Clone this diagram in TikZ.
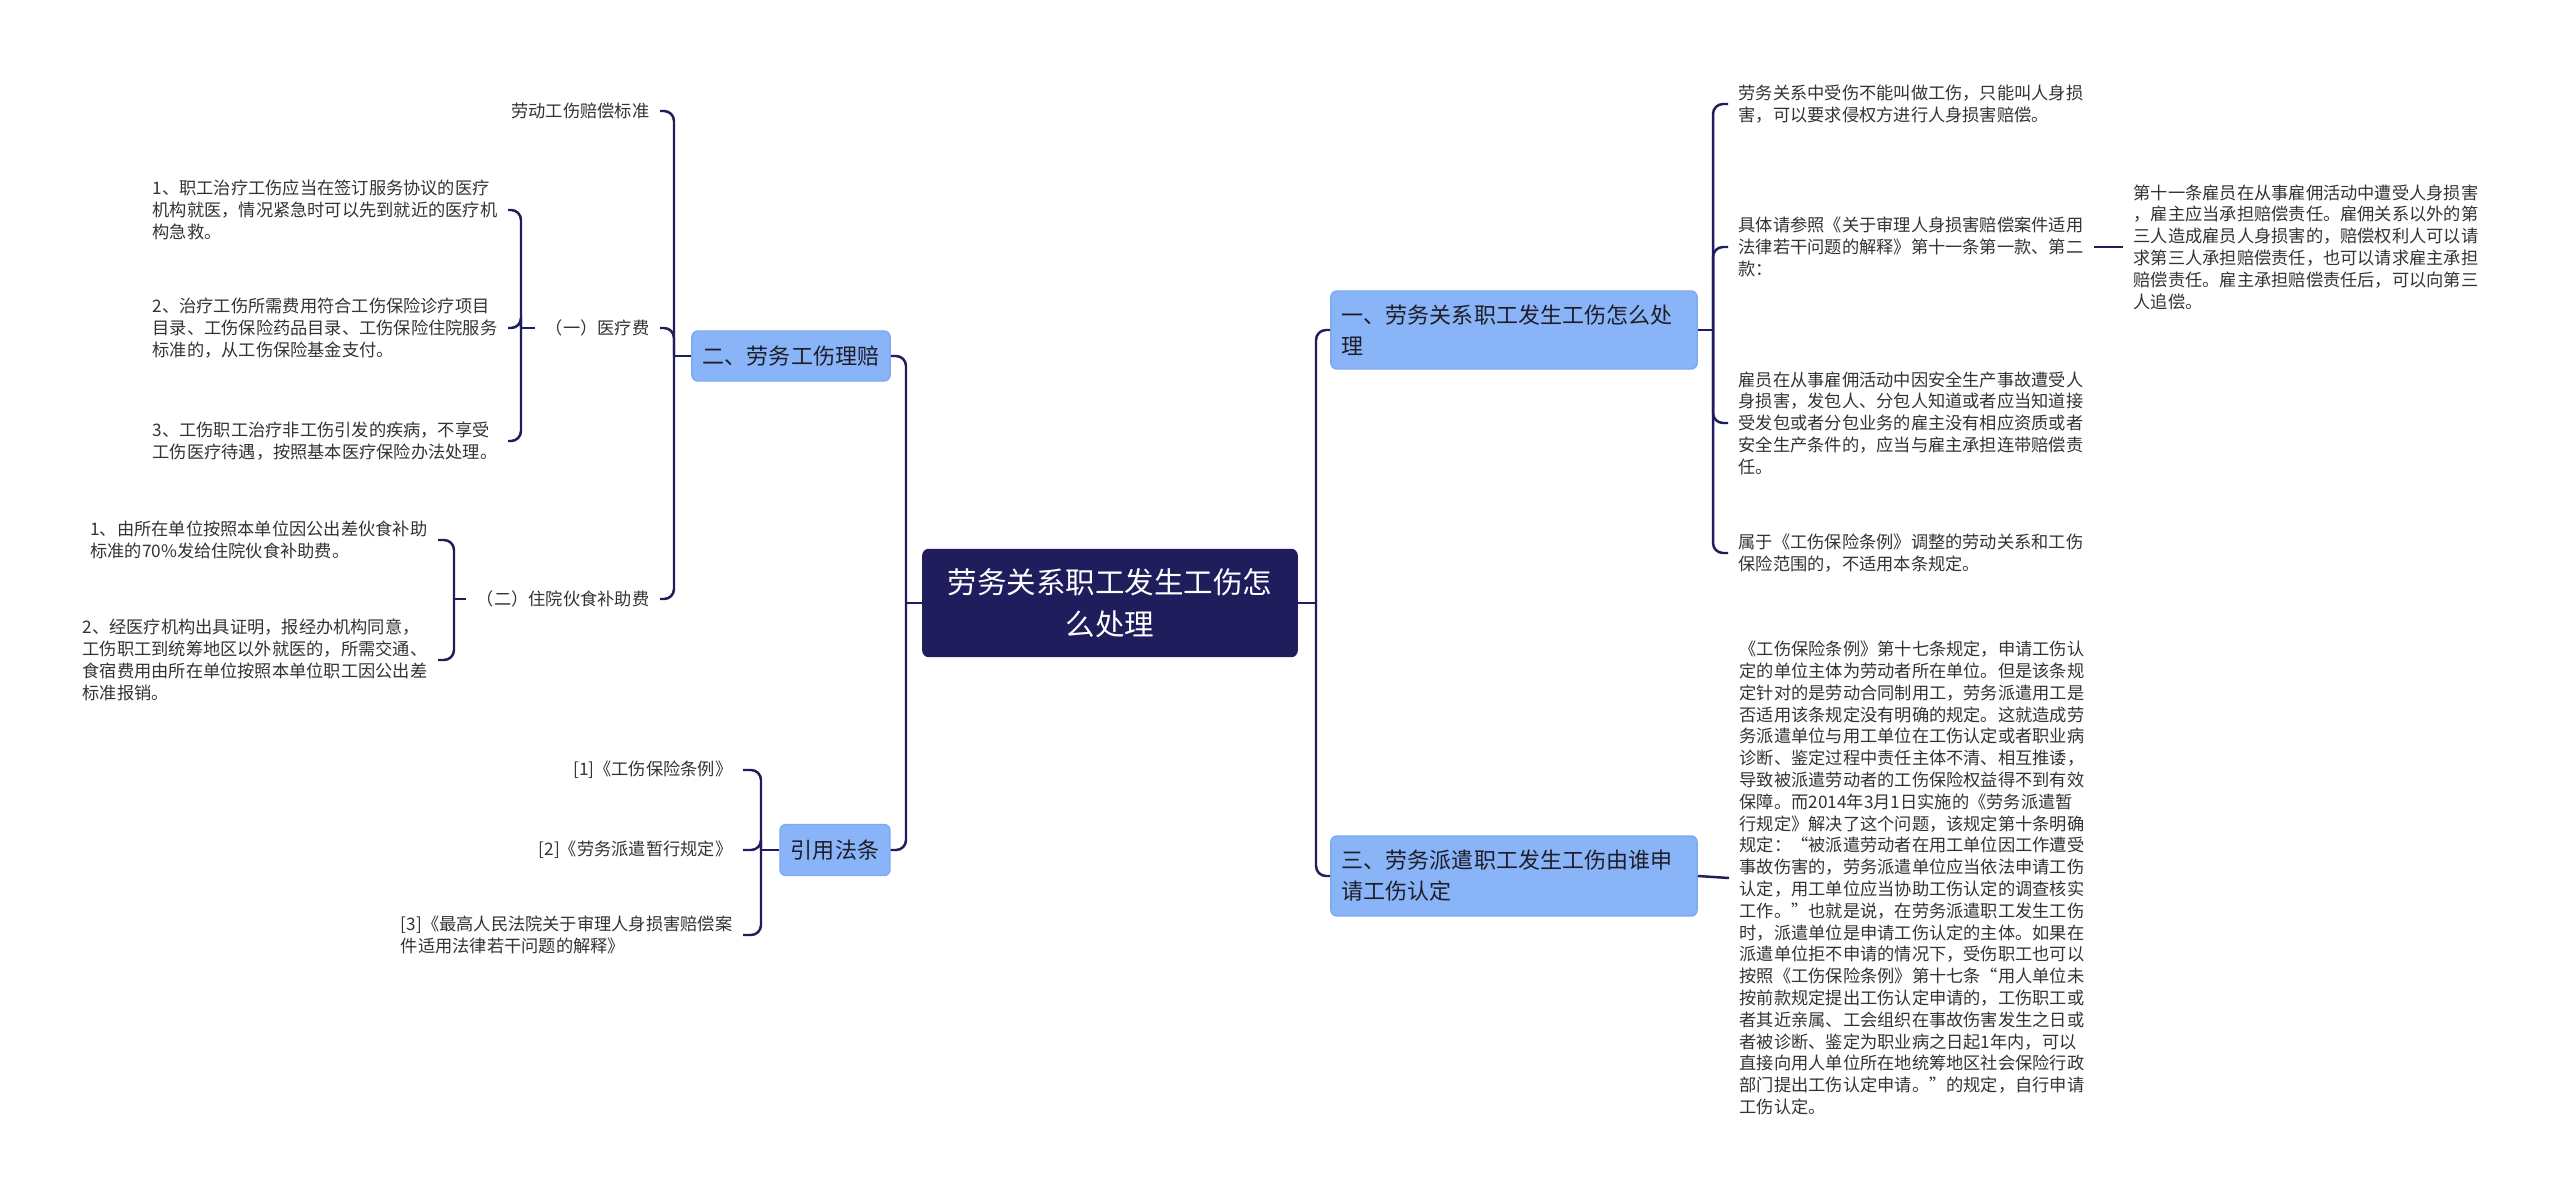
\documentclass[tikz,border=0pt]{standalone}
\usepackage{fontspec}
\setmainfont{Noto Sans CJK SC}
\usepackage{tikz}
\definecolor{navy}{HTML}{1F1D5C}
\definecolor{topicblue}{HTML}{8AB4F8}
\definecolor{topicedge}{HTML}{7DA9F2}
\definecolor{topictext}{HTML}{1E1E28}
\definecolor{leaftext}{HTML}{333333}
\tikzset{
  root/.style={rectangle, rounded corners=0.06cm, fill=navy, draw=navy, text=white, minimum width=3.74cm, minimum height=1.07cm, align=center, font=\fontsize{8.4}{11.9}\selectfont},
  topic/.style={rectangle, rounded corners=0.06cm, fill=topicblue, draw=topicedge, line width=0.4pt, text=topictext, inner xsep=0.11cm, font=\fontsize{6.26}{8.8}\selectfont},
  wide/.style={text width=3.44cm, align=left},
  leaf/.style={align=left, text=leaftext, inner xsep=0.1cm, inner ysep=0pt, font=\fontsize{4.9}{6.2}\selectfont},
  link/.style={draw=navy, line width=0.7pt, rounded corners=0.1cm}
}

\begin{document}
\begin{tikzpicture}[x=0.01cm, y=-0.01cm]
  \fill[white] (0,0) rectangle (2560,1203);
  \useasboundingbox (0,0) rectangle (2560,1203);

  % centre and main topics
  \node[root] (root) at (1110,603) {劳务关系职工发生工伤怎\\么处理};
  \node[topic, wide, minimum height=0.78cm] (t1) at (1514,330) {一、劳务关系职工发生工伤怎么处\\理};
  \node[topic, minimum width=1.98cm, minimum height=0.5cm] (t2) at (791,356) {二、劳务工伤理赔};
  \node[topic, wide, minimum height=0.8cm] (t3) at (1514,876) {三、劳务派遣职工发生工伤由谁申\\请工伤认定};
  \node[topic, minimum width=1.1cm, minimum height=0.51cm] (t4) at (835,850) {引用法条};

  \coordinate (jr) at (1316,603);
  \coordinate (jl) at (906,603);
  \coordinate (j1) at (1713,330);
  \coordinate (j2) at (674,356);
  \coordinate (j2a) at (521,328);
  \coordinate (j2b) at (454,599);
  \coordinate (j4) at (761,850);

  % right side
  \node[leaf, anchor=west] (a1) at (1728,104) {劳务关系中受伤不能叫做工伤，只能叫人身损\\害，可以要求侵权方进行人身损害赔偿。};
  \node[leaf, anchor=west] (a2) at (1728,247) {具体请参照《关于审理人身损害赔偿案件适用\\法律若干问题的解释》第十一条第一款、第二\\款：};
  \node[leaf, anchor=west] (a3) at (1728,423) {雇员在从事雇佣活动中因安全生产事故遭受人\\身损害，发包人、分包人知道或者应当知道接\\受发包或者分包业务的雇主没有相应资质或者\\安全生产条件的，应当与雇主承担连带赔偿责\\任。};
  \node[leaf, anchor=west] (a4) at (1728,553) {属于《工伤保险条例》调整的劳动关系和工伤\\保险范围的，不适用本条规定。};
  \node[leaf, anchor=west] (b1) at (2123,247) {第十一条雇员在从事雇佣活动中遭受人身损害\\，雇主应当承担赔偿责任。雇佣关系以外的第\\三人造成雇员人身损害的，赔偿权利人可以请\\求第三人承担赔偿责任，也可以请求雇主承担\\赔偿责任。雇主承担赔偿责任后，可以向第三\\人追偿。};
  \node[leaf, anchor=west] (c1) at (1729,878) {《工伤保险条例》第十七条规定，申请工伤认\\定的单位主体为劳动者所在单位。但是该条规\\定针对的是劳动合同制用工，劳务派遣用工是\\否适用该条规定没有明确的规定。这就造成劳\\务派遣单位与用工单位在工伤认定或者职业病\\诊断、鉴定过程中责任主体不清、相互推诿，\\导致被派遣劳动者的工伤保险权益得不到有效\\保障。而2014年3月1日实施的《劳务派遣暂\\行规定》解决了这个问题，该规定第十条明确\\规定：“被派遣劳动者在用工单位因工作遭受\\事故伤害的，劳务派遣单位应当依法申请工伤\\认定，用工单位应当协助工伤认定的调查核实\\工作。”也就是说，在劳务派遣职工发生工伤\\时，派遣单位是申请工伤认定的主体。如果在\\派遣单位拒不申请的情况下，受伤职工也可以\\按照《工伤保险条例》第十七条“用人单位未\\按前款规定提出工伤认定申请的，工伤职工或\\者其近亲属、工会组织在事故伤害发生之日或\\者被诊断、鉴定为职业病之日起1年内，可以\\直接向用人单位所在地统筹地区社会保险行政\\部门提出工伤认定申请。”的规定，自行申请\\工伤认定。};

  % left side
  \node[leaf, anchor=east] (d1) at (660,111) {劳动工伤赔偿标准};
  \node[leaf, anchor=east] (d2) at (660,328) {（一）医疗费};
  \node[leaf, anchor=east] (d3) at (660,599) {（二）住院伙食补助费};
  \node[leaf, anchor=east] (e1) at (508,210) {1、职工治疗工伤应当在签订服务协议的医疗\\机构就医，情况紧急时可以先到就近的医疗机\\构急救。};
  \node[leaf, anchor=east] (e2) at (508,328) {2、治疗工伤所需费用符合工伤保险诊疗项目\\目录、工伤保险药品目录、工伤保险住院服务\\标准的，从工伤保险基金支付。};
  \node[leaf, anchor=east] (e3) at (508,441) {3、工伤职工治疗非工伤引发的疾病，不享受\\工伤医疗待遇，按照基本医疗保险办法处理。};
  \node[leaf, anchor=east] (f1) at (438,540) {1、由所在单位按照本单位因公出差伙食补助\\标准的70\%发给住院伙食补助费。};
  \node[leaf, anchor=east] (f2) at (438,660) {2、经医疗机构出具证明，报经办机构同意，\\工伤职工到统筹地区以外就医的，所需交通、\\食宿费用由所在单位按照本单位职工因公出差\\标准报销。};
  \node[leaf, anchor=east] (g1) at (743,770) {[1]《工伤保险条例》};
  \node[leaf, anchor=east] (g2) at (743,850) {[2]《劳务派遣暂行规定》};
  \node[leaf, anchor=east] (g3) at (743,935) {[3]《最高人民法院关于审理人身损害赔偿案\\件适用法律若干问题的解释》};

  % links
  \draw[link] (root.east) -- (jr);
  \draw[link] (jr) |- (t1.west);
  \draw[link] (jr) |- (t3.west);
  \draw[link] (root.west) -- (jl);
  \draw[link] (jl) |- (t2.east);
  \draw[link] (jl) |- (t4.east);
  \draw[link] (t1.east) -- (j1);
  \foreach \n in {a1,a2,a3,a4} \draw[link] (j1) |- (\n.west);
  \draw[link] (a2.east) -- (b1.west);
  \draw[link] (t3.east) -- (c1.west);
  \draw[link] (t2.west) -- (j2);
  \foreach \n in {d1,d2,d3} \draw[link] (j2) |- (\n.east);
  \draw[link] (d2.west) -- (j2a);
  \foreach \n in {e1,e2,e3} \draw[link] (j2a) |- (\n.east);
  \draw[link] (d3.west) -- (j2b);
  \foreach \n in {f1,f2} \draw[link] (j2b) |- (\n.east);
  \draw[link] (t4.west) -- (j4);
  \foreach \n in {g1,g2,g3} \draw[link] (j4) |- (\n.east);
\end{tikzpicture}
\end{document}
